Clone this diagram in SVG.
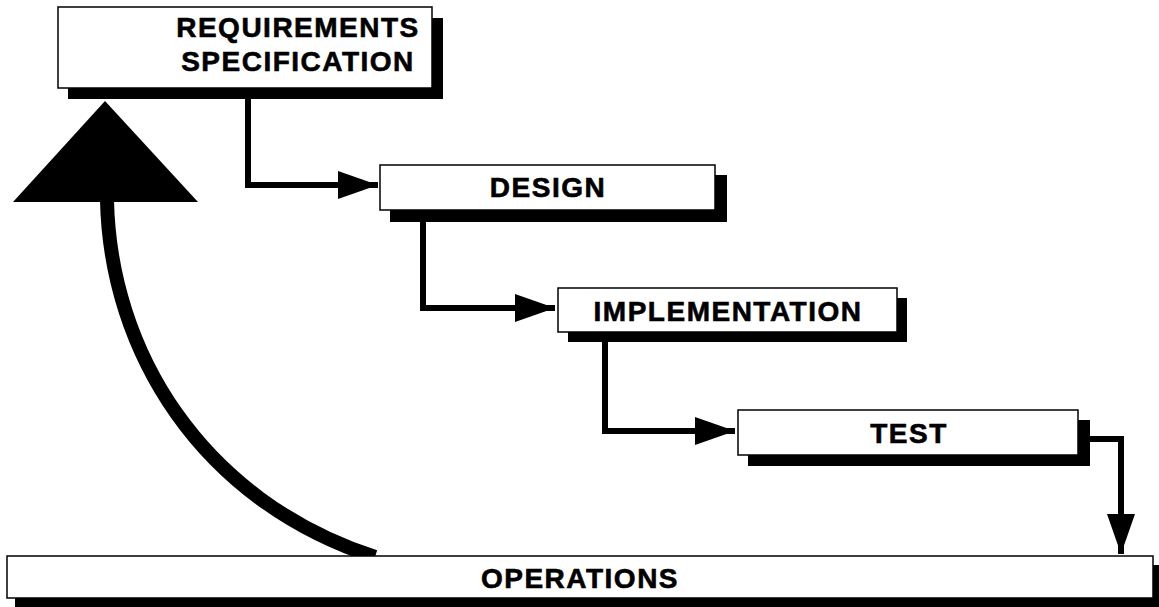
<svg xmlns="http://www.w3.org/2000/svg" width="1159" height="607" viewBox="0 0 1159 607">
<style>
.box{fill:#fff;stroke:#000;stroke-width:1.5}
.shadow{fill:#000}
.lbl{font-family:"Liberation Sans",Arial,sans-serif;font-weight:bold;font-size:28px;letter-spacing:1.5px;fill:#000;stroke:#000;stroke-width:0.6;text-anchor:middle}
.conn{fill:none;stroke:#000;stroke-width:6}
</style>
<defs>
<marker id="ah" markerUnits="userSpaceOnUse" markerWidth="42" markerHeight="30" refX="40" refY="14" orient="auto">
<path d="M0,0 L40,14 L0,28 Z" fill="#000"/>
</marker>
</defs>
<rect width="1159" height="607" fill="#fff"/>
<g id="connectors">
<polyline class="conn" points="248,99 248,185 378,185" marker-end="url(#ah)"/>
<polyline class="conn" points="423,222 423,308 555,308" marker-end="url(#ah)"/>
<polyline class="conn" points="605,342 605,431 735,431" marker-end="url(#ah)"/>
<polyline class="conn" points="1090,439 1121,439 1121,554" marker-end="url(#ah)"/>
<path class="conn" d="M107,200 C110,350 200,500 375,557" style="stroke-width:14"/>
<polygon points="105,101 13,202 198,202" fill="#000"/>
</g>
<g id="requirements">
<rect class="shadow" x="68" y="18" width="375" height="81"/>
<rect class="box" x="58" y="7" width="374" height="81"/>
<text class="lbl" x="298" y="37">REQUIREMENTS</text>
<text class="lbl" x="298" y="71">SPECIFICATION</text>
</g>
<g id="design">
<rect class="shadow" x="390" y="175" width="337" height="47"/>
<rect class="box" x="380" y="165" width="335" height="45"/>
<text class="lbl" x="548" y="197">DESIGN</text>
</g>
<g id="implementation">
<rect class="shadow" x="568" y="298" width="339" height="44"/>
<rect class="box" x="558" y="288" width="339" height="44"/>
<text class="lbl" x="728" y="321">IMPLEMENTATION</text>
</g>
<g id="test">
<rect class="shadow" x="748" y="420" width="342" height="46"/>
<rect class="box" x="738" y="410" width="340" height="45"/>
<text class="lbl" x="909" y="443">TEST</text>
</g>
<g id="operations">
<rect class="shadow" x="15" y="565" width="1150" height="50"/>
<rect class="box" x="7" y="556" width="1146" height="42"/>
<text class="lbl" x="580" y="588">OPERATIONS</text>
</g>
</svg>
